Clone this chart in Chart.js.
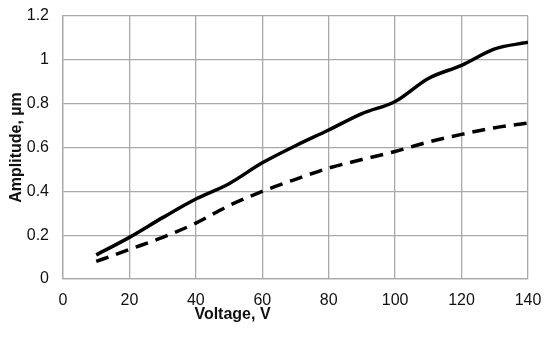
<!DOCTYPE html>
<html>
<head>
<meta charset="utf-8">
<script src="https://cdn.jsdelivr.net/npm/chart.js@4/dist/chart.umd.min.js"></script>
<style>
  html, body { margin: 0; padding: 0; background: #fff; }
  #wrap { width: 550px; height: 337px; position: relative; }
</style>
</head>
<body>
<div id="wrap"><canvas id="chart"></canvas></div>
<script>
// --- data ---
const voltages = [10, 20, 30, 40, 50, 60, 70, 80, 90, 100, 110, 120, 130, 140];
const amplitudeSolid = [0.11, 0.19, 0.28, 0.365, 0.435, 0.53, 0.608, 0.68, 0.755, 0.81, 0.915, 0.975, 1.05, 1.08];
const amplitudeDashed = [0.08, 0.135, 0.19, 0.255, 0.335, 0.40, 0.455, 0.506, 0.545, 0.582, 0.625, 0.66, 0.69, 0.712];
const xTitle = 'Voltage, V';
const yTitle = 'Amplitude, µm';

const FONT = '"Liberation Sans", Arial, sans-serif';
const GRID = '#a9a9a9';

const toPoints = (xs, ys) => xs.map((x, i) => ({ x, y: ys[i] }));

// axis titles drawn at the spots they sit in the picture
const axisTitles = {
  id: 'axisTitles',
  afterDraw(chart) {
    const { ctx, chartArea } = chart;
    ctx.save();
    ctx.fillStyle = '#111';
    ctx.font = 'bold 16px ' + FONT;
    ctx.textAlign = 'center';
    ctx.textBaseline = 'alphabetic';
    ctx.fillText(xTitle, 232.5, 319);
    ctx.translate(21, (chartArea.top + chartArea.bottom) / 2);
    ctx.rotate(-Math.PI / 2);
    ctx.fillText(yTitle, 0, 0);
    ctx.restore();
  }
};

new Chart(document.getElementById('chart'), {
  type: 'line',
  data: {
    datasets: [
      {
        label: 'solid',
        data: toPoints(voltages, amplitudeSolid),
        borderColor: '#000',
        borderWidth: 3.5,
        pointRadius: 0,
        cubicInterpolationMode: 'monotone',
        fill: false
      },
      {
        label: 'dashed',
        data: toPoints(voltages, amplitudeDashed),
        borderColor: '#000',
        borderWidth: 3.5,
        borderDash: [13, 8],
        pointRadius: 0,
        cubicInterpolationMode: 'monotone',
        fill: false
      }
    ]
  },
  options: {
    responsive: true,
    maintainAspectRatio: false,
    animation: false,
    layout: { padding: { top: 16, right: 22, bottom: 0, left: 0 } },
    plugins: { legend: { display: false }, tooltip: { enabled: false } },
    scales: {
      x: {
        type: 'linear',
        min: 0,
        max: 140,
        ticks: { stepSize: 20, color: '#111', padding: 12, font: { family: FONT, size: 16 } },
        grid: { color: GRID, lineWidth: 1.3, drawTicks: false },
        border: { color: GRID, width: 1.3 },
        afterFit(scale) {
          scale.height = 58;
          scale.paddingLeft = 0;
          scale.paddingRight = 0;
        }
      },
      y: {
        min: 0,
        max: 1.2,
        ticks: {
          stepSize: 0.2,
          color: '#111',
          padding: 14,
          font: { family: FONT, size: 16 },
          callback: v => String(Math.round(v * 10) / 10)
        },
        grid: { color: GRID, lineWidth: 1.3, drawTicks: false },
        border: { color: GRID, width: 1.3 },
        afterFit(scale) {
          scale.width = 63;
          scale.paddingTop = 0;
          scale.paddingBottom = 0;
        }
      }
    }
  },
  plugins: [axisTitles]
});
</script>
</body>
</html>
